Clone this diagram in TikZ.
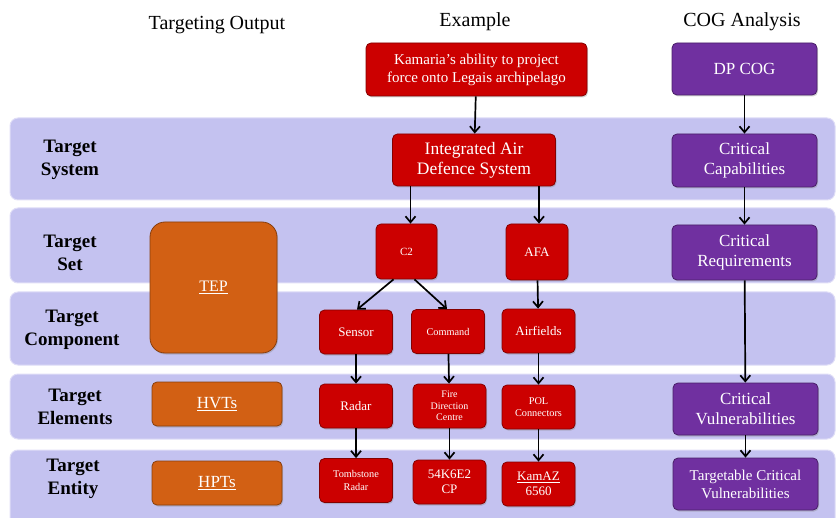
\documentclass[tikz,border=0pt]{standalone}
\usepackage{fontspec}
\setmainfont{Liberation Serif}
\usepackage{tikz}
\usetikzlibrary{arrows.meta,shadows}
\definecolor{bandblue}{RGB}{196,194,240}
\definecolor{boxred}{RGB}{204,0,0}
\definecolor{boxpurple}{RGB}{112,48,160}
\definecolor{boxorange}{RGB}{210,96,20}

\begin{document}
\begin{tikzpicture}[x=1pt, y=-1pt,
  band/.style={fill=bandblue, draw=bandblue!55!white, line width=1pt, rounded corners=8pt},
  tier/.style={font=\fontsize{19}{23}\selectfont\bfseries, align=center},
  head/.style={font=\fontsize{20}{24}\selectfont},
  redbox/.style={draw=boxred!65!black, fill=boxred, line width=0.8pt, rounded corners=5pt, text=white, align=center, inner sep=0pt,
    drop shadow={shadow xshift=1pt, shadow yshift=-1.5pt, opacity=.35}},
  cogbox/.style={redbox, draw=boxpurple!65!black, fill=boxpurple, minimum width=145pt},
  outbox/.style={redbox, draw=boxorange!65!black, fill=boxorange, minimum width=130pt, minimum height=44pt, font=\fontsize{17}{20}\selectfont},
  small/.style={minimum width=73pt, minimum height=44pt},
  arrow/.style={-{Straight Barb[length=6pt, width=10pt]}, line width=1.7pt}
]
\useasboundingbox (0,0) rectangle (837,518);

% Background tiers
\path[band] (10,118) rectangle (835,200);
\path[band] (10,208) rectangle (835,283);
\path[band] (10,292) rectangle (835,365);
\path[band] (10,374) rectangle (835,439);
\path[band] (10,450) rectangle (835,526);

% Column headings
\node[head] (h-out) at (217,25) {Targeting Output};
\node[head] (h-ex) at (475,22) {Example};
\node[head] (h-cog) at (742,22) {COG Analysis};

% Tier labels
\node[tier] (t-sys) at (70,160) {Target\\System};
\node[tier] (t-set) at (70,253) {Target\\Set};
\node[tier] (t-comp) at (72,330) {Target\\Component};
\node[tier] (t-elem) at (75,407) {Target\\Elements};
\node[tier] (t-ent) at (73,479) {Target\\Entity};

% Targeting output
\node[outbox, minimum width=127pt, minimum height=131pt, rounded corners=15pt, font=\fontsize{16}{19}\selectfont] (tep) at (213.5,287.5) {\underline{TEP}};
\node[outbox] (hvt) at (217,404) {\underline{HVTs}};
\node[outbox] (hpt) at (217,483) {\underline{HPTs}};

% Example column
\node[redbox, minimum width=221pt, minimum height=53pt, font=\fontsize{15}{18}\selectfont] (kamaria) at (476.5,69.5) {Kamaria's ability to project\\force onto Legais archipelago};
\node[redbox, minimum width=163pt, minimum height=52pt, font=\fontsize{17.5}{20}\selectfont] (iads) at (474,160) {Integrated Air\\Defence System};
\node[redbox, minimum width=61pt, minimum height=55pt, font=\fontsize{11}{13}\selectfont] (c2) at (406.5,251.5) {C2};
\node[redbox, minimum width=62pt, minimum height=56pt, font=\fontsize{13}{15}\selectfont] (afa) at (537,252) {AFA};
\node[redbox, small, font=\fontsize{13}{15}\selectfont] (sensor) at (356,332) {Sensor};
\node[redbox, small, font=\fontsize{10.3}{12}\selectfont] (command) at (448,331.5) {Command};
\node[redbox, small, font=\fontsize{13}{15}\selectfont] (airfields) at (538.5,331) {Airfields};
\node[redbox, small, font=\fontsize{13}{15}\selectfont] (radar) at (356,406) {Radar};
\node[redbox, small, font=\fontsize{10}{11.7}\selectfont] (fdc) at (449.5,406) {Fire\\Direction\\Centre};
\node[redbox, small, font=\fontsize{10.3}{12.5}\selectfont] (pol) at (538.5,407) {POL\\Connectors};
\node[redbox, small, font=\fontsize{10.3}{12.5}\selectfont] (tombstone) at (356,480.5) {Tombstone\\Radar};
\node[redbox, small, font=\fontsize{13}{15.5}\selectfont] (cp) at (449.5,482) {54K6E2\\CP};
\node[redbox, small, font=\fontsize{13}{15.5}\selectfont] (kamaz) at (538.5,484) {\underline{KamAZ}\\6560};

% COG analysis column
\node[cogbox, minimum height=52pt, font=\fontsize{17}{20}\selectfont] (dpcog) at (744.5,69) {DP COG};
\node[cogbox, minimum height=53pt, font=\fontsize{17}{20}\selectfont] (critcap) at (744.5,160.5) {Critical\\Capabilities};
\node[cogbox, minimum height=55pt, font=\fontsize{17}{20}\selectfont] (critreq) at (744.5,252.5) {Critical\\Requirements};
\node[cogbox, minimum height=52pt, font=\fontsize{17}{20}\selectfont] (critvul) at (745.5,409) {Critical\\Vulnerabilities};
\node[cogbox, minimum height=52pt, font=\fontsize{15}{18}\selectfont] (tcv) at (745.5,484) {Targetable Critical\\Vulnerabilities};

% Example arrows
\draw[arrow] (kamaria) -- (iads);
\draw[arrow] ([xshift=4pt]c2.north |- iads.south) -- ([xshift=4pt]c2.north);
\draw[arrow] ([xshift=2pt]afa.north |- iads.south) -- ([xshift=2pt]afa.north);
\draw[arrow] ([xshift=-13pt]c2.south) -- ([xshift=1pt]sensor.north);
\draw[arrow] ([xshift=8pt]c2.south) -- ([xshift=-1pt]command.north);
\draw[arrow] (afa) -- (airfields);
\draw[arrow] (sensor) -- (radar);
\draw[arrow] (radar) -- (tombstone);
\draw[arrow] (command) -- (fdc);
\draw[arrow] (fdc) -- (cp);
\draw[arrow] (airfields) -- (pol);
\draw[arrow] (pol) -- (kamaz);

% COG arrows
\draw[arrow] (dpcog) -- (critcap);
\draw[arrow] (critcap) -- (critreq);
\draw[arrow] (critreq) -- (critvul);
\draw[arrow] (critvul) -- (tcv);
\end{tikzpicture}
\end{document}
